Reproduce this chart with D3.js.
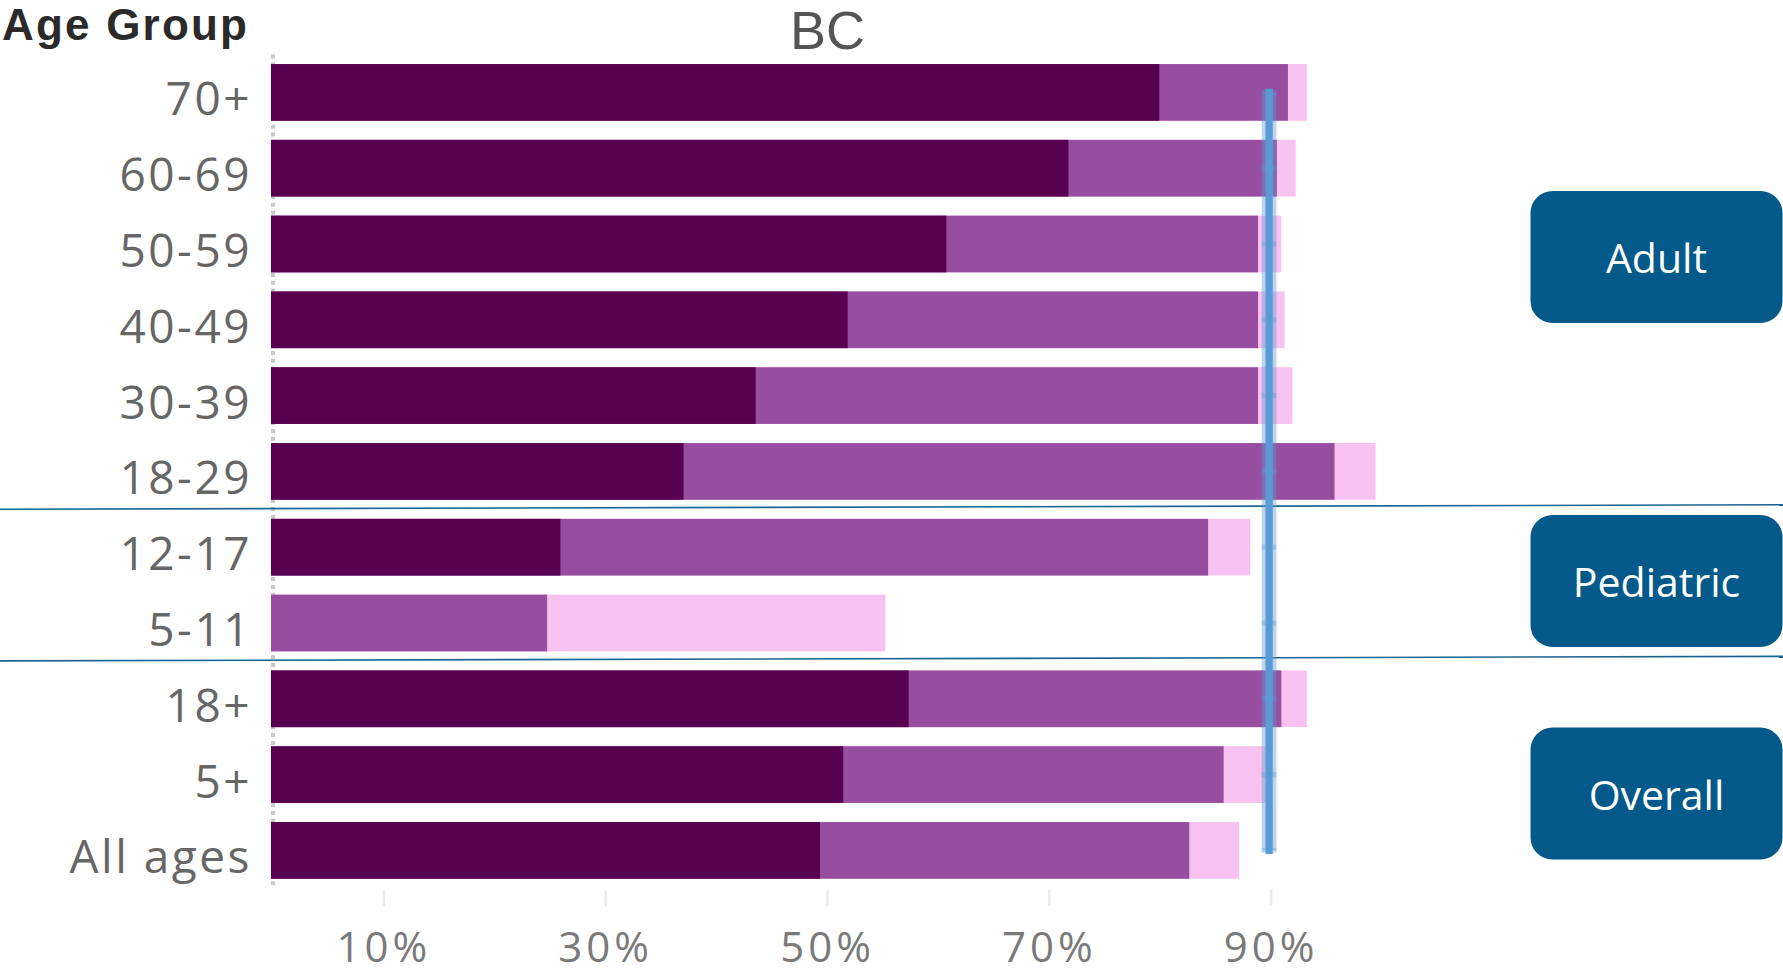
<!DOCTYPE html>
<html>
<head>
<meta charset="utf-8">
<script src="https://cdn.jsdelivr.net/npm/d3@7"></script>
<style>
  body { margin: 0; background: #fff; }
  svg { display: block; font-family: 'Open Sans', sans-serif; }
</style>
</head>
<body>
<div id="chart"></div>
<script>
// age groups, top to bottom
const ageGroups = ['70+', '60-69', '50-59', '40-49', '30-39', '18-29', '12-17', '5-11', '18+', '5+', 'All ages']
// cumulative coverage (%)
const atLeastOne = [93.4, 92.4, 91.1, 91.4, 92.1, 99.6, 88.3, 55.4, 93.4, 89.7, 87.3]
const fullyVacc  = [91.7, 90.7, 89.0, 89.0, 89.0, 95.9, 84.5, 24.9, 91.1, 85.9, 82.8]
const booster    = [80.1, 71.9, 60.9, 52.0, 43.7, 37.2, 26.1, 0, 57.5, 51.6, 49.5]
const targetPct = 90
const xTicks = [10, 30, 50, 70, 90]
const sections = ['Adult', 'Pediatric', 'Overall']
// rows where a new section starts
const sectionBreaks = ['12-17', '18+']

const w = 1783
const h = 975

const svg = d3.select('#chart').append('svg')
  .attr('width', w)
  .attr('height', h)

const x = d3.scaleLinear()
  .domain([0, 100])
  .range([271, 1380])

const y = d3.scaleBand()
  .domain(ageGroups)
  .range([54.5, 888.3])
  .paddingInner(0.252)
  .paddingOuter(0.126)

// dotted zero line
svg.append('line')
  .attr('x1', x(0) + 2).attr('x2', x(0) + 2)
  .attr('y1', y.range()[0]).attr('y2', y.range()[1])
  .attr('stroke', '#c8c8c8')
  .attr('stroke-width', 4)
  .attr('stroke-dasharray', '4,3.8')

const series = [
  { name: 'one', values: atLeastOne, color: '#f7c1f0' },
  { name: 'two', values: fullyVacc, color: '#974ea0' },
  { name: 'three', values: booster, color: '#570050' }
]

svg.selectAll('g.series')
  .data(series)
  .join('g')
    .attr('class', 'series')
    .attr('fill', d => d.color)
  .selectAll('rect')
  .data(d => d.values.map((v, i) => ({ group: ageGroups[i], value: v })))
  .join('rect')
    .attr('x', x(0))
    .attr('y', d => y(d.group))
    .attr('width', d => x(d.value) - x(0))
    .attr('height', y.bandwidth())

// section separators
sectionBreaks.forEach(g => {
  const b = y(g) - y.step() * y.paddingInner() / 2
  svg.append('line')
    .attr('x1', 0).attr('x2', w)
    .attr('y1', b).attr('y2', b - 4.5)
    .attr('stroke', '#1b6491')
    .attr('stroke-width', 1.6)
})

// target line
const targetPts = ageGroups.map(g => [x(targetPct), y(g) + y.bandwidth() / 2])
const line = d3.line()

svg.append('path')
  .attr('d', line(targetPts))
  .attr('fill', 'none')
  .attr('stroke', '#5b9bd5')
  .attr('stroke-opacity', 0.42)
  .attr('stroke-width', 14.7)

svg.append('path')
  .attr('d', line(targetPts))
  .attr('fill', 'none')
  .attr('stroke', '#5b9bd5')
  .attr('stroke-width', 7.3)
  .attr('stroke-linecap', 'square')

svg.selectAll('rect.mark')
  .data(targetPts)
  .join('rect')
    .attr('class', 'mark')
    .attr('x', d => d[0] - 7.35)
    .attr('y', d => d[1] - 2.5)
    .attr('width', 14.7)
    .attr('height', 5)
    .attr('fill', '#5b9bd5')
    .attr('opacity', 0.35)

// row labels
const yAxis = svg.append('g')
  .attr('transform', `translate(${x(0)},0)`)
  .call(d3.axisLeft(y).tickSize(0).tickPadding(19))

yAxis.select('.domain').remove()
yAxis.selectAll('text')
  .attr('dy', '0.5em')
  .attr('font-family', 'Open Sans')
  .attr('font-size', 46)
  .attr('letter-spacing', 2.5)
  .attr('fill', '#666')

// x axis
const xAxis = svg.append('g')
  .attr('transform', 'translate(1.5,890)')
  .call(d3.axisBottom(x).tickValues(xTicks).tickFormat(d => d + '%').tickSize(16).tickPadding(26))

xAxis.select('.domain').remove()
xAxis.selectAll('line')
  .attr('stroke', '#ebebeb')
  .attr('stroke-width', 2.5)
xAxis.selectAll('text')
  .attr('font-family', 'Open Sans')
  .attr('font-size', 42)
  .attr('letter-spacing', 4)
  .attr('fill', '#7a7a7a')

// titles
svg.append('text')
  .attr('x', 2)
  .attr('y', 40)
  .attr('font-family', 'Liberation Sans, Arial, sans-serif')
  .attr('font-size', 44)
  .attr('font-weight', 'bold')
  .attr('letter-spacing', 2.2)
  .attr('fill', '#2a2a2a')
  .text('Age Group')

svg.append('text')
  .attr('x', (x(0) + x(100)) / 2 + 2)
  .attr('y', 49)
  .attr('text-anchor', 'middle')
  .attr('font-family', 'Liberation Sans, Arial, sans-serif')
  .attr('font-size', 54)
  .attr('fill', '#555')
  .text('BC')

// section buttons
const buttonTops = [191, 515, 727.5]
const btn = svg.selectAll('g.btn')
  .data(sections)
  .join('g')
    .attr('class', 'btn')
    .attr('transform', (d, i) => `translate(1530.5,${buttonTops[i]})`)

btn.append('rect')
  .attr('width', 252)
  .attr('height', 132)
  .attr('rx', 22)
  .attr('fill', '#03598a')

btn.append('text')
  .attr('x', 126)
  .attr('y', 82)
  .attr('text-anchor', 'middle')
  .attr('font-size', 41)
  .attr('fill', '#fff')
  .text(d => d)
</script>
</body>
</html>
